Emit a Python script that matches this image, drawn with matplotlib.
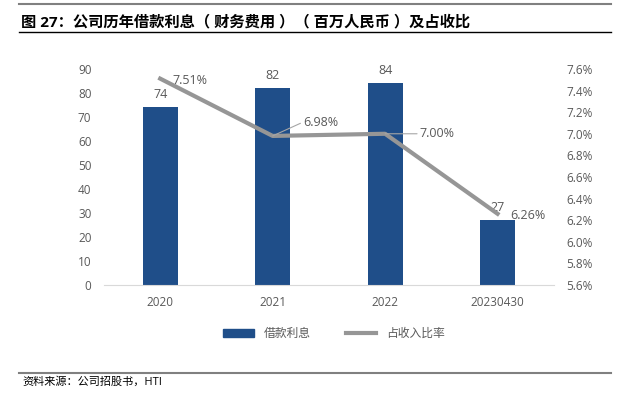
import numpy as np
import matplotlib.pyplot as plt
from matplotlib.lines import Line2D
from matplotlib.patches import Patch

plt.rcParams['font.family'] = ['Open Sans', 'Noto Sans CJK SC', 'DejaVu Sans']

cats = ['2020', '2021', '2022', '20230430']
interest = [74, 82, 84, 27]
ratio = [7.51, 6.98, 7.00, 6.26]
ratio_labels = ['7.51%', '6.98%', '7.00%', '6.26%']

bar_c = '#1f4e89'
line_c = '#969696'
tick_c = '#595959'

fig = plt.figure(figsize=(6.3, 3.96), dpi=100)
ax = fig.add_axes([0.165, 0.280, 0.714, 0.546])
ax2 = ax.twinx()

x = np.arange(len(cats))
ax.bar(x, interest, width=0.31, color=bar_c, zorder=2)
for xi, v in zip(x, interest):
    ax.text(xi, v + 2.5, str(v), ha='center', va='bottom', fontsize=9, color=tick_c)

ax.set_xlim(-0.5, 3.5)
ax.set_ylim(0, 90)
ax.set_yticks(range(0, 91, 10))
ax.set_xticks(x)
ax.set_xticklabels(cats)
ax.tick_params(axis='both', length=0, labelsize=8.5, colors=tick_c)
ax.tick_params(axis='y', pad=9)
ax.tick_params(axis='x', pad=8)
for s in ['top', 'left', 'right']:
    ax.spines[s].set_visible(False)
ax.spines['bottom'].set_color('#d9d9d9')

ax2.plot(x, ratio, color=line_c, linewidth=3, zorder=3)
ax2.set_ylim(5.6, 7.6)
ax2.set_yticks(np.arange(5.6, 7.61, 0.2))
ax2.set_yticklabels(['%.1f%%' % t for t in np.arange(5.6, 7.61, 0.2)])
ax2.tick_params(axis='y', length=0, labelsize=8.5, colors=tick_c, pad=9)
for s in ax2.spines.values():
    s.set_visible(False)

# data labels for the ratio line
ax2.annotate(ratio_labels[0], (x[0], ratio[0]), xytext=(9, -1), textcoords='offset points',
             fontsize=9, color=tick_c, va='center')
ax2.annotate(ratio_labels[1], (x[1], ratio[1]), xytext=(22, 10), textcoords='offset points',
             fontsize=9, color=tick_c, va='center',
             arrowprops=dict(arrowstyle='-', color='#a6a6a6', lw=0.8, shrinkA=0, shrinkB=0,
                             relpos=(0, 0.5)))
ax2.annotate(ratio_labels[2], (x[2], ratio[2]), xytext=(25, 0), textcoords='offset points',
             fontsize=9, color=tick_c, va='center',
             arrowprops=dict(arrowstyle='-', color='#a6a6a6', lw=0.8, shrinkA=0, shrinkB=0,
                             relpos=(0, 0.5)))
ax2.annotate(ratio_labels[3], (x[3], ratio[3]), xytext=(9, -1), textcoords='offset points',
             fontsize=9, color=tick_c, va='center')

handles = [Patch(color=bar_c), Line2D([], [], color=line_c, linewidth=3)]
fig.legend(handles, ['借款利息', '占收入比率'], loc='center', bbox_to_anchor=(0.53, 0.158),
           ncol=2, frameon=False, fontsize=8.5, handlelength=2.6, handleheight=0.6,
           columnspacing=3, labelcolor=tick_c)

# title / footer with rules
fig.add_artist(Line2D([0.03, 0.97], [0.99, 0.99], color='#808080', lw=1.5))
fig.text(0.033, 0.945, '图 27：公司历年借款利息（ 财务费用 ）（ 百万人民币 ）及占收比',
         fontsize=11, fontweight='bold', va='center', color='black')
fig.add_artist(Line2D([0.03, 0.97], [0.918, 0.918], color='black', lw=1))
fig.add_artist(Line2D([0.03, 0.97], [0.058, 0.058], color='#808080', lw=1.5))
fig.text(0.035, 0.035, '资料来源：公司招股书，HTI', fontsize=8, va='center', color='black')

fig.savefig('out.png', dpi=100)
